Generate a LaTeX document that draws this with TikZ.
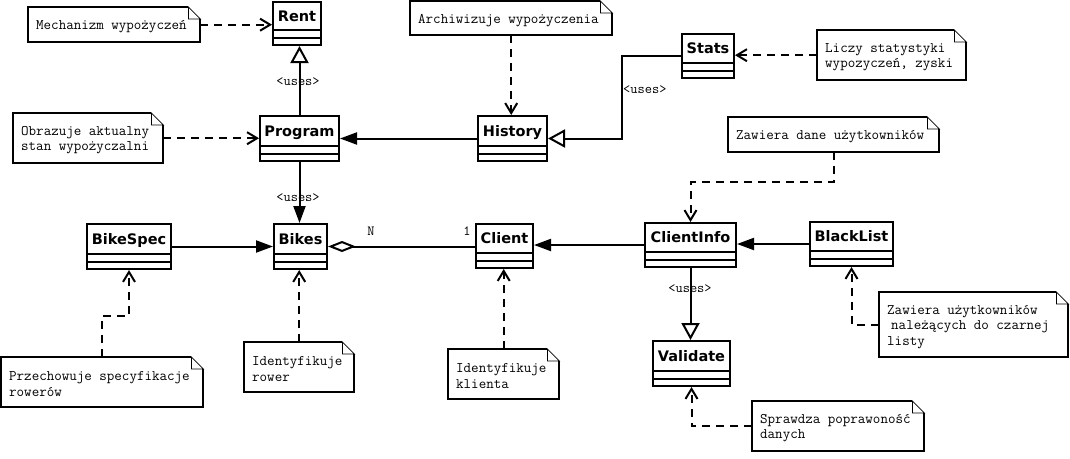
\documentclass[tikz,border=0pt]{standalone}
\usepackage{fontspec}
\setmainfont{DejaVu Sans}
\usetikzlibrary{arrows.meta,calc}
\tikzset{
  classbox/.style={draw, line width=2pt, inner sep=0pt, fill=white},
  classname/.style={font=\fontsize{14.5}{16}\selectfont\bfseries, inner sep=0pt},
  notetext/.style={font=\ttfamily\fontsize{14.6}{15.5}\selectfont, align=left, inner sep=0pt},
  lbl/.style={font=\ttfamily\fontsize{14}{14}\selectfont, inner sep=0pt},
  dep/.style={line width=2pt, dash pattern=on 8pt off 6pt, -{Straight Barb[length=10pt,width=12pt]}},
  assoc/.style={line width=2pt, -{Triangle[length=17pt,width=12pt]}},
  gen/.style={line width=2pt, -{Triangle[open,length=17pt,width=18pt,fill=white]}},
  aggr/.style={line width=2pt, {Diamond[open,length=28pt,width=11pt,fill=white]}-},
}
\newcommand\mkclass[6]{%
  \node[classbox, minimum width=#4pt, minimum height=#5pt, anchor=north west] (#1) at (#2,#3) {};
  \draw[line width=2pt] ($(#1.south west)+(0,-16)$) -- ($(#1.south east)+(0,-16)$);
  \draw[line width=2pt] ($(#1.south west)+(0,-8)$) -- ($(#1.south east)+(0,-8)$);
  \node[classname, anchor=base] (#1-name) at ($(#1.center)+(0,-2.5)$) {#6};
}
\newcommand\mknote[6]{%
  \node[inner sep=0pt, minimum width=#4pt, minimum height=#5pt, anchor=north west] (#1) at (#2,#3) {};
  \draw[line width=2pt, line join=miter] ($(#1.north east)+(-12,0)$) -- (#1.north west) -- (#1.south west) -- (#1.south east) -- ($(#1.north east)+(0,12)$);
  \draw[line width=0.8pt] ($(#1.north east)+(-12,0)$) -- ($(#1.north east)+(0,12)$) -- ($(#1.north east)+(-12,12)$) -- cycle;
  \node[notetext, anchor=west] (#1-text) at ($(#1.west)+(8,2)$) {#6};
}
\begin{document}
\begin{tikzpicture}[x=1pt, y=-1pt]
\useasboundingbox (0,0) rectangle (1070,458);
% classes
\mkclass{Rent}{272}{1}{48}{43}{Rent}
\mkclass{Program}{259}{115}{79}{45}{Program}
\mkclass{History}{477}{115}{69}{45}{History}
\mkclass{Stats}{681}{33}{52}{44}{Stats}
\mkclass{BikeSpec}{86}{223}{84}{45}{BikeSpec}
\mkclass{Bikes}{273}{223}{53}{45}{Bikes}
\mkclass{Client}{475}{223}{57}{44}{Client}
\mkclass{ClientInfo}{644}{222}{91}{44}{ClientInfo}
\mkclass{BlackList}{809}{221}{83}{44}{BlackList}
\mkclass{Validate}{652}{340}{77}{45}{Validate}
% notes
\mknote{n1}{28}{7}{172}{35}{Mechanizm wypożyczeń}
\mknote{n2}{13}{113}{150}{50}{Obrazuje aktualny\\stan wypożyczalni}
\mknote{n3}{410}{1}{202}{34}{Archiwizuje wypożyczenia}
\mknote{n4}{817}{30}{149}{50}{Liczy statystyki\\wypozyczeń, zyski}
\mknote{n5}{728}{117}{211}{35}{Zawiera dane użytkowników}
\mknote{n6}{1}{357}{202}{50}{Przechowuje specyfikacje\\rowerów}
\mknote{n7}{244}{342}{110}{50}{Identyfikuje\\rower}
\mknote{n8}{448}{349}{111}{50}{Identyfikuje\\klienta}
\mknote{n9}{879}{292}{189}{65}{Zawiera użytkowników\\\hspace*{4pt}należących do czarnej\\listy}
\mknote{n10}{752}{401}{172}{50}{Sprawdza poprawoność\\danych}
% connectors
\draw[dep] (n1.east) -- (n1.east -| Rent.west);
\draw[gen] (Program.north) -- (Program.north |- Rent.south);
\draw[dep] (n2.east) -- (n2.east -| Program.west);
\draw[assoc] (History.west) -- (History.west -| Program.east);
\draw[dep] (n3.south) -- (n3.south |- History.north);
\draw[gen] (Stats.west) -- ++(-59,0) |- (History.east);
\draw[dep] (n4.west) -- (n4.west -| Stats.east);
\draw[assoc] (Program.south) -- (Program.south |- Bikes.north);
\draw[assoc] (BikeSpec.east) -- (BikeSpec.east -| Bikes.west);
\draw[aggr] (Bikes.east) -- (Bikes.east -| Client.west);
\draw[assoc] (ClientInfo.west) -- (ClientInfo.west -| Client.east);
\draw[assoc] (BlackList.west) -- (BlackList.west -| ClientInfo.east);
\draw[gen] (ClientInfo.south) -- (ClientInfo.south |- Validate.north);
\draw[dep] (n5.south) -- ++(0,30) -| (ClientInfo.north);
\draw[dep] (n6.north) -- ++(0,-41) -| (BikeSpec.south);
\draw[dep] (n7.north) -- (n7.north |- Bikes.south);
\draw[dep] (n8.north) -- (n8.north |- Client.south);
\draw[dep] (n9.west) -| (BlackList.south);
\draw[dep] (n10.west) -| (Validate.south);
% labels
\node[lbl] (u1) at (298,82) {<uses>};
\node[lbl] (u2) at (298,198) {<uses>};
\node[lbl, anchor=west] (u3) at (623,90) {<uses>};
\node[lbl] (u4) at (690,289) {<uses>};
\node[lbl] (mN) at (371,231) {N};
\node[lbl] (m1) at (467,231) {1};
\end{tikzpicture}
\end{document}
